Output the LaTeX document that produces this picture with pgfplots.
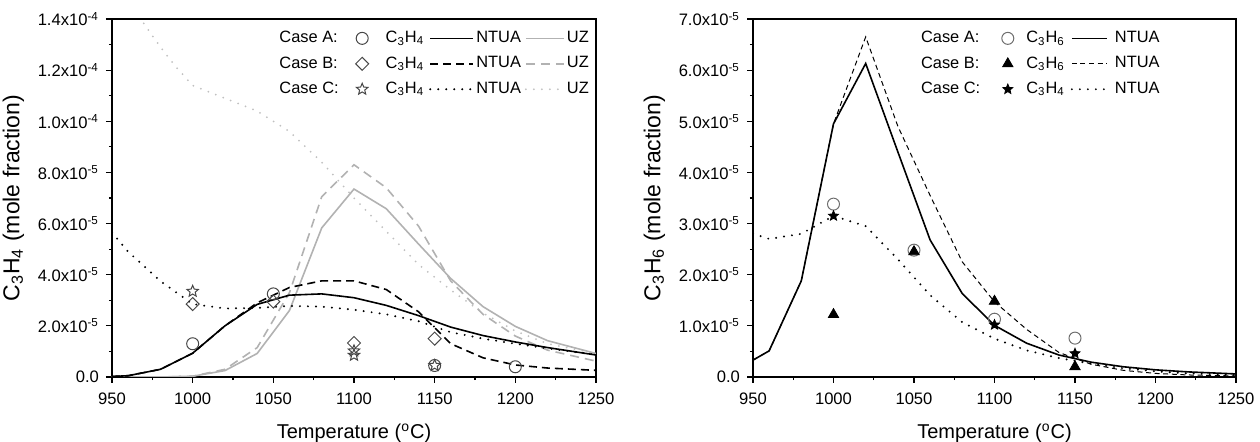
\documentclass[border=0pt]{standalone}
\usepackage{fontspec}
\setmainfont{Liberation Sans}
\usepackage{pgfplots}
\pgfplotsset{compat=1.18}
\definecolor{uzgray}{RGB}{178,178,178}
\definecolor{uzdot}{RGB}{192,192,192}
\definecolor{mkgray}{RGB}{70,70,70}
\definecolor{mkgray2}{RGB}{110,110,110}
\pgfdeclareplotmark{ostar}{%
  \pgfpathmoveto{\pgfpointpolar{90}{\pgfplotmarksize}}%
  \pgfpathlineto{\pgfpointpolar{126}{0.45\pgfplotmarksize}}%
  \pgfpathlineto{\pgfpointpolar{162}{\pgfplotmarksize}}%
  \pgfpathlineto{\pgfpointpolar{198}{0.45\pgfplotmarksize}}%
  \pgfpathlineto{\pgfpointpolar{234}{\pgfplotmarksize}}%
  \pgfpathlineto{\pgfpointpolar{270}{0.45\pgfplotmarksize}}%
  \pgfpathlineto{\pgfpointpolar{306}{\pgfplotmarksize}}%
  \pgfpathlineto{\pgfpointpolar{342}{0.45\pgfplotmarksize}}%
  \pgfpathlineto{\pgfpointpolar{18}{\pgfplotmarksize}}%
  \pgfpathlineto{\pgfpointpolar{54}{0.45\pgfplotmarksize}}%
  \pgfpathclose\pgfusepathqstroke}
\pgfdeclareplotmark{fstar}{%
  \pgfpathmoveto{\pgfpointpolar{90}{\pgfplotmarksize}}%
  \pgfpathlineto{\pgfpointpolar{126}{0.45\pgfplotmarksize}}%
  \pgfpathlineto{\pgfpointpolar{162}{\pgfplotmarksize}}%
  \pgfpathlineto{\pgfpointpolar{198}{0.45\pgfplotmarksize}}%
  \pgfpathlineto{\pgfpointpolar{234}{\pgfplotmarksize}}%
  \pgfpathlineto{\pgfpointpolar{270}{0.45\pgfplotmarksize}}%
  \pgfpathlineto{\pgfpointpolar{306}{\pgfplotmarksize}}%
  \pgfpathlineto{\pgfpointpolar{342}{0.45\pgfplotmarksize}}%
  \pgfpathlineto{\pgfpointpolar{18}{\pgfplotmarksize}}%
  \pgfpathlineto{\pgfpointpolar{54}{0.45\pgfplotmarksize}}%
  \pgfpathclose\pgfusepathqfillstroke}
\pgfplotsset{
  limg/.style n args={3}{legend image code/.code={\path (0pt,0pt) (#3,0pt); \draw[##1] (#1,0pt) -- (#2,0pt);}},
  mimg/.style 2 args={legend image code/.code={\path (0pt,0pt) (#2,0pt); \draw[##1] plot coordinates {(#1,0pt)};}},
  myaxis/.style={
    scale only axis, height=179pt,
    xmin=950, xmax=1250, ymin=0,
    xtick={950,1000,...,1250}, minor x tick num=1, minor y tick num=1,
    scaled y ticks=false, tick align=outside, xtick pos=left, ytick pos=left,
    major tick length=3pt, minor tick length=1.6pt,
    axis line style={line width=0.6pt},
    every tick/.append style={black, line width=0.6pt},
    tick label style={font=\fontsize{8.3}{9.9}\selectfont},
    xticklabel style={yshift=-1.5pt},
    xlabel style={font=\fontsize{10}{12}\selectfont, yshift=-2.5pt},
    ylabel style={font=\fontsize{11.5}{13.8}\selectfont},
    xlabel={Temperature (\textsuperscript{o}C)},
    /pgf/number format/assume math mode=true, /pgf/number format/1000 sep={},
    legend cell align=left,
    legend style={draw=none, fill=none, inner sep=0pt, row sep=4.5pt,
      font=\fontsize{8.2}{9.8}\selectfont, nodes={inner xsep=1pt, inner ysep=0.5pt}},
  },
  solidk/.style={black, line width=0.8pt},
  dashk/.style={black, line width=0.8pt, dash pattern=on 4pt off 2.5pt},
  dotk/.style={black, line width=1.1pt, line cap=round, dash pattern=on 0pt off 4pt},
  solidg/.style={uzgray, line width=0.8pt},
  dashg/.style={uzgray, line width=0.8pt, dash pattern=on 4.5pt off 3pt},
  dotg/.style={uzdot, line width=1.0pt, line cap=round, dash pattern=on 0pt off 4pt},
}
\begin{document}
\begin{tikzpicture}
\useasboundingbox (0,0) rectangle (630pt,221pt);
% ---------------- left panel ----------------
\begin{axis}[myaxis, at={(56pt,32.5pt)}, anchor=south west, width=242pt,
  ymax=1.4e-4,
  ytick={0,2e-5,4e-5,6e-5,8e-5,1e-4,1.2e-4,1.4e-4},
  yticklabels={0.0, 2.0x10\textsuperscript{-5}, 4.0x10\textsuperscript{-5}, 6.0x10\textsuperscript{-5}, 8.0x10\textsuperscript{-5}, 1.0x10\textsuperscript{-4}, 1.2x10\textsuperscript{-4}, 1.4x10\textsuperscript{-4}},
  ylabel={C\textsubscript{3}H\textsubscript{4} (mole fraction)},
  legend columns=4,
  legend style={at={(rel axis cs:0.341,0.97)}, anchor=north west},
]
\addlegendimage{empty legend}\addlegendentry{Case A:}
\addlegendimage{mimg={10.5pt}{21pt}, only marks, mark=o, mark size=3pt, mkgray, line width=0.5pt}\addlegendentry{C\textsubscript{3}H\textsubscript{4}}
\addlegendimage{limg={1.5pt}{23pt}{23pt}, solidk}\addlegendentry{NTUA}
\addlegendimage{limg={1pt}{20pt}{20pt}, solidg}\addlegendentry{UZ}
\addlegendimage{empty legend}\addlegendentry{Case B:}
\addlegendimage{mimg={10.5pt}{21pt}, only marks, mark=square, mark size=2.3pt, mark options={rotate=45}, mkgray, line width=0.5pt}\addlegendentry{C\textsubscript{3}H\textsubscript{4}}
\addlegendimage{limg={1.5pt}{23pt}{23pt}, dashk}\addlegendentry{NTUA}
\addlegendimage{limg={1pt}{20pt}{20pt}, dashg}\addlegendentry{UZ}
\addlegendimage{empty legend}\addlegendentry{Case C:}
\addlegendimage{mimg={10.5pt}{21pt}, only marks, mark=ostar, mark size=3pt, mkgray, line width=0.5pt}\addlegendentry{C\textsubscript{3}H\textsubscript{4}}
\addlegendimage{limg={1.5pt}{23pt}{23pt}, dotk}\addlegendentry{NTUA}
\addlegendimage{limg={1pt}{20pt}{20pt}, dotg}\addlegendentry{UZ}
% UZ curves
\addplot[dotg, forget plot] coordinates {(950,16.0e-5) (960,14.8e-5) (970,13.8e-5) (980,12.9e-5) (990,12.1e-5) (1000,11.4e-5) (1020,10.9e-5) (1040,10.4e-5) (1060,9.6e-5) (1080,8.4e-5) (1100,7.0e-5) (1120,5.7e-5) (1140,4.4e-5) (1160,3.4e-5) (1180,2.5e-5) (1200,1.8e-5) (1220,1.3e-5) (1250,0.92e-5)};
\addplot[dashg, forget plot] coordinates {(950,0) (980,0) (1000,0.03e-5) (1020,0.3e-5) (1040,1.15e-5) (1060,3.3e-5) (1080,7.05e-5) (1100,8.3e-5) (1120,7.4e-5) (1140,5.9e-5) (1160,3.75e-5) (1180,2.45e-5) (1200,1.6e-5) (1220,1.05e-5) (1250,0.62e-5)};
\addplot[solidg, forget plot] coordinates {(950,0) (980,0) (1000,0.03e-5) (1020,0.25e-5) (1040,0.92e-5) (1060,2.6e-5) (1080,5.83e-5) (1100,7.35e-5) (1120,6.58e-5) (1140,5.2e-5) (1160,3.85e-5) (1180,2.75e-5) (1200,1.98e-5) (1220,1.42e-5) (1250,0.92e-5)};
% NTUA curves
\addplot[dotk, forget plot] coordinates {(950,5.65e-5) (960,4.9e-5) (980,3.75e-5) (1000,2.85e-5) (1020,2.68e-5) (1040,2.7e-5) (1060,2.78e-5) (1080,2.75e-5) (1100,2.63e-5) (1120,2.45e-5) (1140,2.18e-5) (1160,1.75e-5) (1180,1.5e-5) (1200,1.3e-5) (1220,1.12e-5) (1250,0.87e-5)};
\addplot[dashk, forget plot] coordinates {(950,0.02e-5) (960,0.05e-5) (980,0.3e-5) (1000,0.93e-5) (1020,2.0e-5) (1040,2.9e-5) (1060,3.5e-5) (1080,3.76e-5) (1100,3.76e-5) (1120,3.42e-5) (1140,2.55e-5) (1160,1.3e-5) (1180,0.75e-5) (1200,0.47e-5) (1220,0.35e-5) (1250,0.26e-5)};
\addplot[solidk, forget plot] coordinates {(950,0.02e-5) (960,0.05e-5) (980,0.3e-5) (1000,0.93e-5) (1020,2.0e-5) (1040,2.84e-5) (1060,3.2e-5) (1080,3.25e-5) (1100,3.1e-5) (1120,2.8e-5) (1140,2.4e-5) (1160,1.95e-5) (1180,1.62e-5) (1200,1.37e-5) (1220,1.15e-5) (1250,0.86e-5)};
% markers
\addplot[only marks, mark=o, mark size=3pt, mkgray, line width=0.5pt, forget plot] coordinates {(1000,1.3e-5) (1050,3.25e-5) (1150,0.45e-5) (1200,0.4e-5)};
\addplot[only marks, mark=square, mark size=2.3pt, mark options={rotate=45}, mkgray, line width=0.5pt, forget plot] coordinates {(1000,2.85e-5) (1050,2.95e-5) (1100,1.33e-5) (1150,1.5e-5)};
\addplot[only marks, mark=ostar, mark size=3pt, mkgray, line width=0.5pt, forget plot] coordinates {(1000,3.35e-5) (1100,1.02e-5) (1100,0.85e-5) (1150,0.45e-5)};
\end{axis}
% ---------------- right panel ----------------
\begin{axis}[myaxis, at={(376.5pt,32.5pt)}, anchor=south west, width=241.5pt,
  ymax=7e-5,
  ytick={0,1e-5,2e-5,3e-5,4e-5,5e-5,6e-5,7e-5},
  yticklabels={0.0, 1.0x10\textsuperscript{-5}, 2.0x10\textsuperscript{-5}, 3.0x10\textsuperscript{-5}, 4.0x10\textsuperscript{-5}, 5.0x10\textsuperscript{-5}, 6.0x10\textsuperscript{-5}, 7.0x10\textsuperscript{-5}},
  ylabel={C\textsubscript{3}H\textsubscript{6} (mole fraction)},
  legend columns=3,
  legend style={at={(rel axis cs:0.343,0.97)}, anchor=north west},
]
\addlegendimage{empty legend}\addlegendentry{Case A:}
\addlegendimage{mimg={12.5pt}{20.5pt}, only marks, mark=o, mark size=3pt, mkgray2, line width=0.5pt}\addlegendentry{C\textsubscript{3}H\textsubscript{6}}
\addlegendimage{limg={2pt}{19.5pt}{22pt}, black, line width=0.8pt}\addlegendentry{NTUA}
\addlegendimage{empty legend}\addlegendentry{Case B:}
\addlegendimage{mimg={12.5pt}{20.5pt}, only marks, mark=triangle*, mark size=3pt, black}\addlegendentry{C\textsubscript{3}H\textsubscript{6}}
\addlegendimage{limg={2pt}{19.5pt}{22pt}, black, line width=0.5pt, dash pattern=on 2.5pt off 1.8pt}\addlegendentry{NTUA}
\addlegendimage{empty legend}\addlegendentry{Case C:}
\addlegendimage{mimg={12.5pt}{20.5pt}, only marks, mark=fstar, mark size=2.6pt, black}\addlegendentry{C\textsubscript{3}H\textsubscript{4}}
\addlegendimage{limg={2pt}{19.5pt}{22pt}, dotk}\addlegendentry{NTUA}
\addplot[dotk, forget plot] coordinates {(950,2.8e-5) (960,2.7e-5) (980,2.8e-5) (1000,3.15e-5) (1020,2.95e-5) (1040,2.3e-5) (1060,1.6e-5) (1080,1.07e-5) (1100,0.75e-5) (1120,0.52e-5) (1140,0.37e-5) (1160,0.26e-5) (1180,0.17e-5) (1200,0.11e-5) (1220,0.07e-5) (1250,0.04e-5)};
\addplot[black, line width=0.5pt, dash pattern=on 2.5pt off 1.8pt, forget plot] coordinates {(950,0.33e-5) (960,0.51e-5) (980,1.88e-5) (1000,4.95e-5) (1020,6.65e-5) (1040,4.9e-5) (1060,3.55e-5) (1080,2.25e-5) (1100,1.47e-5) (1120,0.93e-5) (1140,0.48e-5) (1160,0.25e-5) (1180,0.13e-5) (1200,0.07e-5) (1220,0.04e-5) (1250,0.02e-5)};
\addplot[black, line width=0.8pt, forget plot] coordinates {(950,0.33e-5) (960,0.51e-5) (980,1.88e-5) (1000,4.95e-5) (1020,6.13e-5) (1040,4.4e-5) (1060,2.68e-5) (1080,1.63e-5) (1100,1.01e-5) (1120,0.66e-5) (1140,0.43e-5) (1160,0.29e-5) (1180,0.2e-5) (1200,0.14e-5) (1220,0.1e-5) (1250,0.06e-5)};
\addplot[only marks, mark=o, mark size=3pt, mkgray2, line width=0.5pt, forget plot] coordinates {(1000,3.38e-5) (1050,2.48e-5) (1100,1.13e-5) (1150,0.76e-5)};
\addplot[only marks, mark=triangle*, mark size=3pt, black, forget plot] coordinates {(1000,1.22e-5) (1050,2.45e-5) (1100,1.48e-5) (1150,0.2e-5)};
\addplot[only marks, mark=fstar, mark size=2.6pt, black, forget plot] coordinates {(1000,3.15e-5) (1100,1.02e-5) (1150,0.46e-5)};
\end{axis}
\end{tikzpicture}
\end{document}
